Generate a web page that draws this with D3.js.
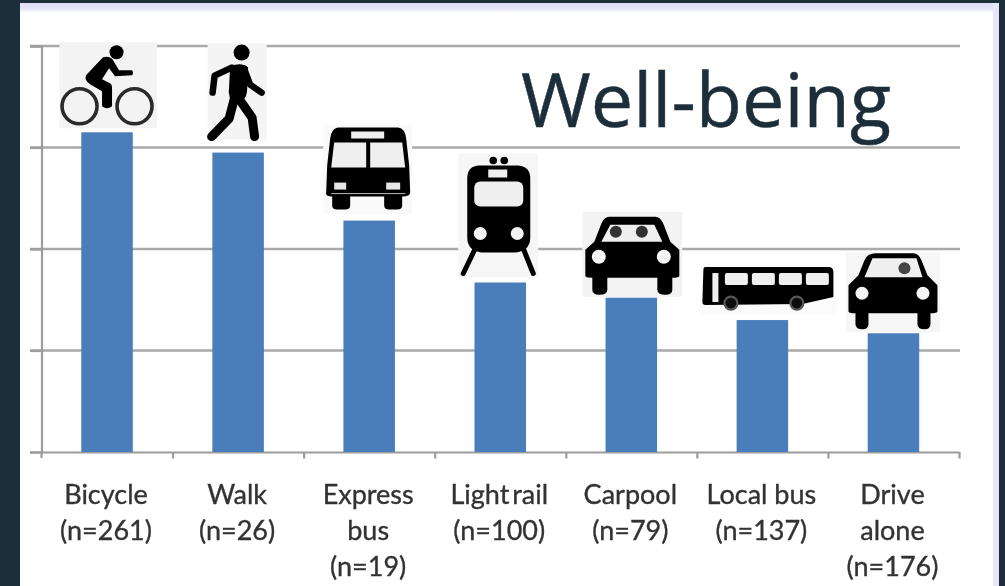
<!DOCTYPE html>
<html>
<head>
<meta charset="utf-8">
<script src="https://d3js.org/d3.v7.min.js"></script>
<style>
  html, body { margin: 0; padding: 0; background: #1b2e3a; overflow: hidden; }
  svg { display: block; }
</style>
</head>
<body>
<div id="chart"></div>
<script>
const categories = ["bicycle", "walk", "expressBus", "lightRail", "carpool", "localBus", "driveAlone"];
const wellBeing = [3.15, 2.95, 2.28, 1.67, 1.52, 1.30, 1.17];
const labelLines = [
    ["Bicycle", "(n=261)"],
    ["Walk", "(n=26)"],
    ["Express", "bus", "(n=19)"],
    ["Light rail", "(n=100)"],
    ["Carpool", "(n=79)"],
    ["Local bus", "(n=137)"],
    ["Drive", "alone", "(n=176)"]
];
const yTicks = [0, 1, 2, 3, 4];

const width = 1005;
const height = 586;
const ink = "#000";
const dark = "#1b2e3a";
const glass = "#efefef";

const svg = d3.select("#chart").append("svg")
    .attr("width", width)
    .attr("height", height);

const defs = svg.append("defs");
const fade = defs.append("linearGradient")
    .attr("id", "topFade")
    .attr("x1", 0).attr("x2", 0).attr("y1", 0).attr("y2", 1);
fade.append("stop").attr("offset", "0%").attr("stop-color", "#dcdcf6");
fade.append("stop").attr("offset", "60%").attr("stop-color", "#e6e6f8");
fade.append("stop").attr("offset", "100%").attr("stop-color", "#fff");
defs.append("filter").attr("id", "soft")
    .append("feGaussianBlur").attr("stdDeviation", 0.6);
defs.append("filter").attr("id", "softer")
    .append("feGaussianBlur").attr("stdDeviation", 0.45);

// slide panel
svg.append("rect").attr("x", 20).attr("y", 3).attr("width", 973).attr("height", 583).attr("fill", "#fff");
svg.append("rect").attr("x", 20).attr("y", 3).attr("width", 979).attr("height", 10).attr("fill", "url(#topFade)");
svg.append("rect").attr("x", 993).attr("y", 3).attr("width", 6).attr("height", 583).attr("fill", "#e6e6f8");

const x = d3.scaleBand()
    .domain(categories)
    .range([41.5, 959])
    .paddingInner(0.607)
    .paddingOuter(0.3035);

const y = d3.scaleLinear()
    .domain([0, 4])
    .range([452, 46]);

const xEdges = d3.scaleLinear()
    .domain([0, categories.length])
    .range([41.5, 959]);

const plot = svg.append("g").attr("filter", "url(#softer)");

// gridlines
plot.append("g")
    .selectAll("line")
    .data(yTicks.slice(1))
    .enter()
    .append("line")
    .attr("x1", 30)
    .attr("x2", 960)
    .attr("y1", d => y(d))
    .attr("y2", d => y(d))
    .attr("stroke", "#a9a9a9")
    .attr("stroke-width", 2.4);

// axes
const yAxis = plot.append("g")
    .attr("transform", "translate(41.5,0)")
    .call(d3.axisLeft(y).tickValues(yTicks).tickSize(11.5).tickFormat(""));
const xAxis = plot.append("g")
    .attr("transform", "translate(0,452)")
    .call(d3.axisBottom(xEdges).ticks(categories.length).tickSize(6.5).tickSizeOuter(0).tickFormat(""));
[yAxis, xAxis].forEach(a => {
    a.selectAll("path, line").attr("stroke", "#9c9c9c").attr("stroke-width", 2.2);
});
xAxis.select(".tick line").attr("y2", 0);
yAxis.append("line").attr("x1", 0).attr("x2", 0).attr("y1", 452).attr("y2", 458)
    .attr("stroke", "#9c9c9c").attr("stroke-width", 2.2);

// bars
plot.append("g")
    .selectAll("rect")
    .data(categories)
    .enter()
    .append("rect")
    .attr("x", d => x(d))
    .attr("y", (d, i) => y(wellBeing[i]))
    .attr("width", x.bandwidth())
    .attr("height", (d, i) => y(0) - y(wellBeing[i]))
    .attr("fill", "#4a7ebb");

// icons are drawn from the top centre of their bar
function backing(g, x0, y0, x1, y1, fill) {
    g.append("rect")
        .attr("x", x0).attr("y", y0)
        .attr("width", x1 - x0).attr("height", y1 - y0)
        .attr("fill", fill || "#f5f5f5");
}

function shape(g, d, fill) {
    g.append("path").attr("d", d).attr("fill", fill || ink);
}

function dot(g, cx, cy, r, fill) {
    g.append("circle").attr("cx", cx).attr("cy", cy).attr("r", r).attr("fill", fill || ink);
}

function limb(g, d, w) {
    g.append("path").attr("d", d)
        .attr("fill", "none")
        .attr("stroke", ink)
        .attr("stroke-width", w)
        .attr("stroke-linecap", "round")
        .attr("stroke-linejoin", "round");
}

const icons = {
    bicycle(g) {
        backing(g, -47.5, -90, 50, -4, "#f3f3f3");
        [-27.5, 27.5].forEach(cx => {
            g.append("circle").attr("cx", cx).attr("cy", -26).attr("r", 17.5)
                .attr("fill", "none").attr("stroke", "#2c2c2c").attr("stroke-width", 3.6);
        });
        dot(g, 9.5, -80, 7);
        shape(g, "M-21,-57 L-4,-75 Q3,-77 6,-72 L12,-62 L25,-62 Q27,-59 25,-57 L8,-56 L2,-64 L-5,-53 L3,-49 Q5,-48 5,-44 L5,-26 Q0,-22 -5,-26 L-5,-41 L-17,-48 Q-23,-52 -21,-57 Z");
    },
    walk(g) {
        backing(g, -30.5, -109, 28.5, -13, "#f4f4f4");
        dot(g, 3.5, -100, 8);
        shape(g, "M-8,-86 Q3,-91 10,-85 L9,-62 Q8,-50 -3,-50 Q-11,-53 -9,-66 Z");
        limb(g, "M-25.5,-60 L-23.5,-77 L-6.5,-85", 6.5);
        limb(g, "M6,-84 L12,-68 L23.5,-60", 6.5);
        limb(g, "M-3.5,-55 L-9,-34 L-26.5,-16", 9);
        limb(g, "M0,-55 L14,-35 L16.5,-16", 9);
    },
    expressBus(g) {
        backing(g, -46, -96, 43, -6, "#fafafa");
        shape(g, "M-31,-93 L29,-93 Q36,-92 37,-82 L40,-55 L41,-28 Q41,-24 33,-24 L33,-15 Q33,-11 28,-11 L20,-11 Q15,-11 15,-15 L15,-24 L-19,-24 L-19,-15 Q-19,-11 -24,-11 L-32,-11 Q-37,-11 -37,-15 L-37,-24 Q-44,-24 -43,-28 L-42,-55 L-39,-82 Q-38,-92 -31,-93 Z");
        shape(g, "M-18,-89 L15,-89 L15,-82 L-18,-82 Z", glass);
        shape(g, "M-35,-78 L-3,-78 L-3,-53 L-38,-53 Z", glass);
        shape(g, "M1,-78 L33,-78 L36,-53 L1,-53 Z", glass);
        shape(g, "M-35,-38 L-23,-38 L-23,-31 L-35,-31 Z", "#e5e5e5");
        shape(g, "M17,-38 L31,-38 L31,-31 L17,-31 Z", "#e5e5e5");
        g.append("line").attr("x1", -38).attr("x2", 36).attr("y1", -27).attr("y2", -27)
            .attr("stroke", "#bbb").attr("stroke-width", 1);
    },
    lightRail(g) {
        backing(g, -42, -129, 38, -5, "#f6f6f6");
        limb(g, "M-25,-34 L-37,-9", 5);
        limb(g, "M23,-34 L33,-9", 5);
        dot(g, -7, -122, 3.8);
        dot(g, 4, -122, 3.8);
        shape(g, "M-22,-117 L18,-117 Q30,-116 30,-104 L30,-45 Q30,-32 16,-30 L-19,-30 Q-33,-32 -33,-45 L-33,-104 Q-33,-116 -22,-117 Z");
        shape(g, "M-12,-113 L7,-113 L7,-105 L-12,-105 Z", glass);
        g.append("rect").attr("x", -26).attr("y", -101).attr("width", 49).attr("height", 25).attr("rx", 6).attr("fill", glass);
        dot(g, -20, -49, 6.5, "#f3f3f3");
        dot(g, 17, -49, 6.5, "#f3f3f3");
    },
    carpool(g) {
        backing(g, -49, -86, 51, -1, "#f3f3f3");
        shape(g, "M-22,-81 L24,-81 Q29,-81 32,-74 L39,-56 L48,-48 L48,-22 Q48,-20 41,-20 L41,-8 Q41,-3 34,-3 Q26,-3 26,-8 L26,-20 L-24,-20 L-24,-8 Q-24,-3 -32,-3 Q-39,-3 -39,-8 L-39,-20 Q-46,-20 -46,-22 L-46,-48 L-37,-56 L-30,-74 Q-27,-81 -22,-81 Z");
        shape(g, "M-21,-73 L23,-73 L31,-56 L-30,-56 Z", glass);
        dot(g, -15.5, -66, 6, "#333");
        dot(g, 10.5, -66, 6, "#333");
        dot(g, -32.5, -41, 7, "#f5f5f5");
        dot(g, 32.5, -41, 7, "#f5f5f5");
    },
    localBus(g) {
        backing(g, -62, -57, 75, -5, "#fbfbfb");
        shape(g, "M-57,-53 L66,-53 Q71,-53 71,-48 L71,-23 L40,-16 L-57,-15 Q-60,-15 -60,-18 L-59,-50 Q-59,-53 -57,-53 Z");
        shape(g, "M-50,-47 L-44,-47 L-44,-18 L-50,-18 Z", glass);
        [-37.5, -10.5, 16.5, 43.5].forEach(wx => {
            g.append("rect").attr("x", wx).attr("y", -47).attr("width", 23).attr("height", 12).attr("rx", 2).attr("fill", glass);
        });
        [-31.5, 34.5].forEach(cx => {
            g.append("circle").attr("cx", cx).attr("cy", -17).attr("r", 6.5)
                .attr("fill", "#111").attr("stroke", "#555").attr("stroke-width", 2.2);
        });
    },
    driveAlone(g) {
        backing(g, -47.5, -81, 46.5, -1, "#f6f6f6");
        shape(g, "M-18,-80 L20,-80 Q25,-80 28,-73 L34,-58 L44,-48 L44,-22 Q44,-20 37,-20 L37,-9 Q37,-4 31,-4 Q24,-4 24,-9 L24,-20 L-25,-20 L-25,-9 Q-25,-4 -31,-4 Q-38,-4 -38,-9 L-38,-20 Q-45,-20 -45,-22 L-45,-48 L-35,-58 L-29,-73 Q-26,-80 -18,-80 Z");
        shape(g, "M-21,-75 L23,-75 L29,-56 L-29,-56 Z", glass);
        dot(g, 11, -65, 6, "#444");
        dot(g, -31.5, -40, 6.5, "#f5f5f5");
        dot(g, 29.5, -40, 6.5, "#f5f5f5");
    }
};

categories.forEach((c, i) => {
    const g = plot.append("g")
        .attr("transform", `translate(${x(c) + x.bandwidth() / 2},${y(wellBeing[i])})`);
    icons[c](g);
});

// category labels
const labels = svg.append("g")
    .attr("filter", "url(#soft)")
    .attr("font-family", "Lato, sans-serif")
    .attr("font-size", 27)
    .attr("fill", "#333")
    .attr("stroke", "#333")
    .attr("stroke-width", 0.35)
    .attr("text-anchor", "middle");

labelLines.forEach((lines, i) => {
    const cx = x(categories[i]) + x.bandwidth() / 2 - 1;
    const t = labels.append("text");
    lines.forEach((line, j) => {
        t.append("tspan")
            .attr("x", cx)
            .attr("y", 504 + j * 36)
            .attr("word-spacing", line === "Light rail" ? -4 : 0)
            .text(line);
    });
});

svg.append("text")
    .attr("x", 521)
    .attr("y", 127)
    .attr("font-family", "'Open Sans', sans-serif")
    .attr("font-size", 75.6)
    .attr("fill", dark)
    .attr("stroke", dark)
    .attr("stroke-width", 0.5)
    .text("Well-being");
</script>
</body>
</html>
